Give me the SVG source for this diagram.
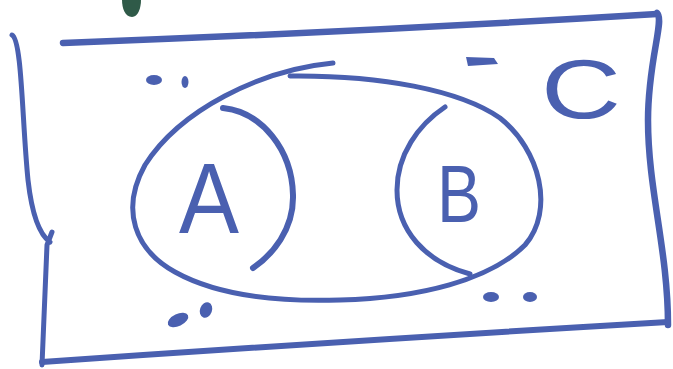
<svg xmlns="http://www.w3.org/2000/svg" width="673" height="369" viewBox="0 0 673 369">
<style>
.ink{fill:none;stroke:#4a60b0;stroke-linecap:round;stroke-linejoin:round}
.dot{fill:#4a60b0}
.lbl{font-family:"Liberation Sans","DejaVu Sans",sans-serif;fill:#4a60b0}
</style>
<rect width="673" height="369" fill="#ffffff"/>
<g id="stray-mark">
<path d="M122 0 L141 0 C141 8 138 17 132 17 C125 17 122 8 122 0 Z" fill="#2f5a48"/>
</g>
<g id="set-C">
<path class="ink" stroke-width="6.5" d="M63 43 Q360 32 657 14"/>
<path class="ink" stroke-width="6.5" d="M657 13 C665 20 648 60 648 120 C648 190 668 250 668 325"/>
<path class="ink" stroke-width="6" d="M42 362 Q360 340 668 322"/>
<path class="ink" stroke-width="5" d="M12 35 C22 40 22 120 28 180 C32 215 40 235 50 242 M52 232 L47 245 L42 365"/>
<text class="lbl" x="541" y="118" font-size="83" textLength="80" lengthAdjust="spacingAndGlyphs">C</text>
</g>
<g id="outer-ellipse">
<path class="ink" stroke-width="5" d="M333 63 C260 70 180 110 145 165 C120 210 135 250 175 272 C220 297 280 302 340 300 C420 298 490 280 525 245 C555 210 540 150 500 118 C460 90 380 75 290 76"/>
</g>
<g id="set-A">
<path class="ink" stroke-width="6" d="M223 108 C262 112 292 150 293 195 C294 230 272 255 253 268"/>
<text class="lbl" x="209" y="233" font-size="100" text-anchor="middle" textLength="60" lengthAdjust="spacingAndGlyphs">A</text>
</g>
<g id="set-B">
<path class="ink" stroke-width="5" d="M445 107 C418 125 397 155 397 190 C397 230 425 262 470 274"/>
<text class="lbl" x="437" y="222" font-size="82" textLength="44" lengthAdjust="spacingAndGlyphs">B</text>
</g>
<g id="dots">
<ellipse class="dot" cx="154" cy="80" rx="8" ry="5"/>
<ellipse class="dot" cx="185" cy="82" rx="3.5" ry="6"/>
<path class="dot" d="M466 57 L494 58 L498 64 L468 66 Z"/>
<ellipse class="dot" cx="178" cy="320" rx="11" ry="6" transform="rotate(-25 178 320)"/>
<ellipse class="dot" cx="206" cy="310" rx="6" ry="8" transform="rotate(20 206 310)"/>
<ellipse class="dot" cx="491" cy="297" rx="8" ry="5"/>
<ellipse class="dot" cx="530" cy="297" rx="7" ry="5"/>
</g>
</svg>
